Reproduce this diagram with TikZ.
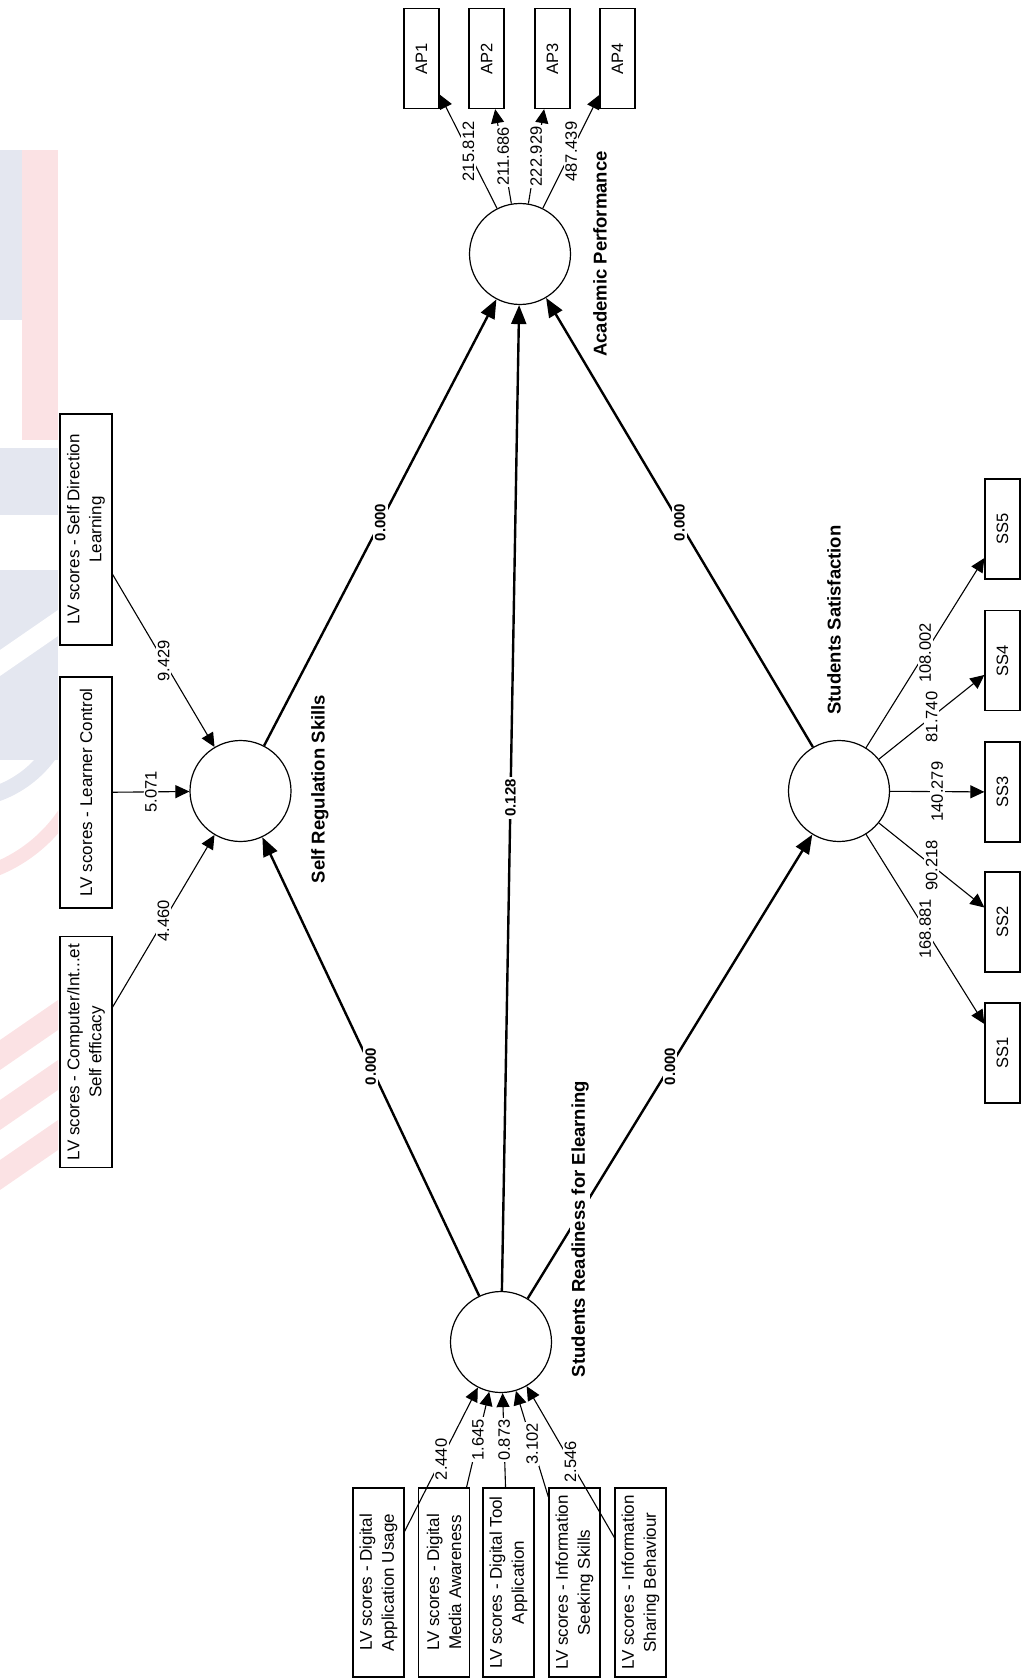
\documentclass[tikz,border=0pt]{standalone}
\usepackage{fontspec}
\setmainfont{Liberation Sans}
\usetikzlibrary{arrows.meta}
\definecolor{wmred}{RGB}{251,226,228}
\definecolor{wmblue}{RGB}{228,231,240}

\begin{document}
\begin{tikzpicture}[x=1pt,y=-1pt,
  lv/.style={circle,draw,line width=1.2pt,fill=white,minimum size=101pt,inner sep=0pt},
  ind/.style={draw,line width=1.3pt,rotate=90,minimum width=100pt,minimum height=35pt,inner sep=1pt,font=\fontsize{16.5}{20}\selectfont},
  lvbox/.style={draw,line width=1.3pt,rotate=90,minimum height=52pt,inner sep=1pt,align=center,font=\fontsize{17}{22}\selectfont},
  ldg/.style={line width=1.1pt,-{Triangle[length=14pt,width=13pt]}},
  strpath/.style={line width=2.4pt,-{Triangle[length=19pt,width=15pt]}},
  wt/.style={fill=white,inner sep=1.5pt,rotate=90,font=\fontsize{16.5}{18}\selectfont},
  coef/.style={fill=white,inner sep=2pt,rotate=90,font=\bfseries\fontsize{15}{17}\selectfont},
  lvname/.style={fill=white,inner sep=1.5pt,rotate=90,font=\bfseries\fontsize{18.5}{20}\selectfont}]
\useasboundingbox (0,0) rectangle (1021,1680);

\begin{scope}
\clip (0,145) rectangle (58,1300);
\fill[wmblue] (0,150) rectangle (22,320);
\fill[wmred] (22,150) rectangle (58,440);
\fill[wmblue] (0,448) rectangle (58,515);
\fill[wmblue] (0,570) rectangle (58,760);
\fill[white] (0,650) -- (58,610) -- (58,636) -- (0,676) -- cycle;
\draw[wmblue,line width=16pt] (-40,800) arc[start angle=90,end angle=20,radius=110];
\draw[wmred,line width=14pt] (-60,880) arc[start angle=90,end angle=10,radius=150];
\fill[wmred] (0,1040) -- (58,1000) -- (58,1030) -- (0,1070) -- cycle;
\fill[wmred] (0,1100) -- (58,1060) -- (58,1090) -- (0,1130) -- cycle;
\fill[wmred] (0,1160) -- (58,1120) -- (58,1150) -- (0,1190) -- cycle;
\end{scope}

\node[lv] (ap) at (520,254) {};
\node[lv] (srs) at (240.5,791) {};
\node[lv] (ss) at (839,791) {};
\node[lv] (sre) at (501,1342) {};

\foreach \i/\x in {1/421.5,2/486.5,3/552.5,4/617.5}
  \node[ind] (ap\i) at (\x,58.5) {AP\i};
\foreach \i/\y in {1/1053,2/922,3/792,4/660.5,5/529}
  \node[ind] (ss\i) at (1002.5,\y) {SS\i};

\node[lvbox,minimum width=231pt] (sdl) at (86,529.5) {LV scores - Self Direction\\Learning};
\node[lvbox,minimum width=231pt] (lc) at (86,792.5) {LV scores - Learner Control};
\node[lvbox,minimum width=231pt] (cse) at (86,1052) {LV scores - Computer/Int...et\\Self efficacy};

\node[lvbox,minimum width=189pt,minimum height=51pt] (dau) at (378.5,1582.5) {LV scores - Digital\\Application Usage};
\node[lvbox,minimum width=189pt,minimum height=51pt] (dma) at (444,1582.5) {LV scores - Digital\\Media Awareness};
\node[lvbox,minimum width=189pt,minimum height=51pt] (dta) at (508.5,1582.5) {LV scores - Digital Tool\\Application};
\node[lvbox,minimum width=189pt,minimum height=51pt] (iss) at (574.5,1582.5) {LV scores - Information\\Seeking Skills};
\node[lvbox,minimum width=189pt,minimum height=51pt] (isb) at (640.5,1582.5) {LV scores - Information\\Sharing Behaviour};

\foreach \i/\w in {1/215.812,2/211.686,3/222.929,4/487.439}
  \draw[ldg] (ap) -- node[wt] (wap\i) {\w} (ap\i);
\foreach \i/\w in {1/168.881,2/90.218,3/140.279,4/81.740,5/108.002}
  \draw[ldg] (ss) -- node[wt] (wss\i) {\w} (ss\i);
\foreach \b/\w in {sdl/9.429,lc/5.071,cse/4.460}
  \draw[ldg] (\b) -- node[wt] (w\b) {\w} (srs);
\foreach \b/\w in {dau/2.440,dma/1.645,dta/0.873,iss/3.102,isb/2.546}
  \draw[ldg] (\b) -- node[wt] (w\b) {\w} (sre);

\draw[strpath] (srs) -- node[coef] (c1) {0.000} (ap);
\draw[strpath] (sre) -- node[coef] (c2) {0.128} (ap);
\draw[strpath] (ss) -- node[coef] (c3) {0.000} (ap);
\draw[strpath] (sre) -- node[coef] (c4) {0.000} (srs);
\draw[strpath] (sre) -- node[coef] (c5) {0.000} (ss);

\node[lvname] (apname) at (600,254) {Academic Performance};
\node[lvname] (srsname) at (320,789) {Self Regulation Skills};
\node[lvname] (ssname) at (834,620) {Students Satisfaction};
\node[lvname] (srename) at (580,1229) {Students Readiness for Elearning};
\end{tikzpicture}
\end{document}
